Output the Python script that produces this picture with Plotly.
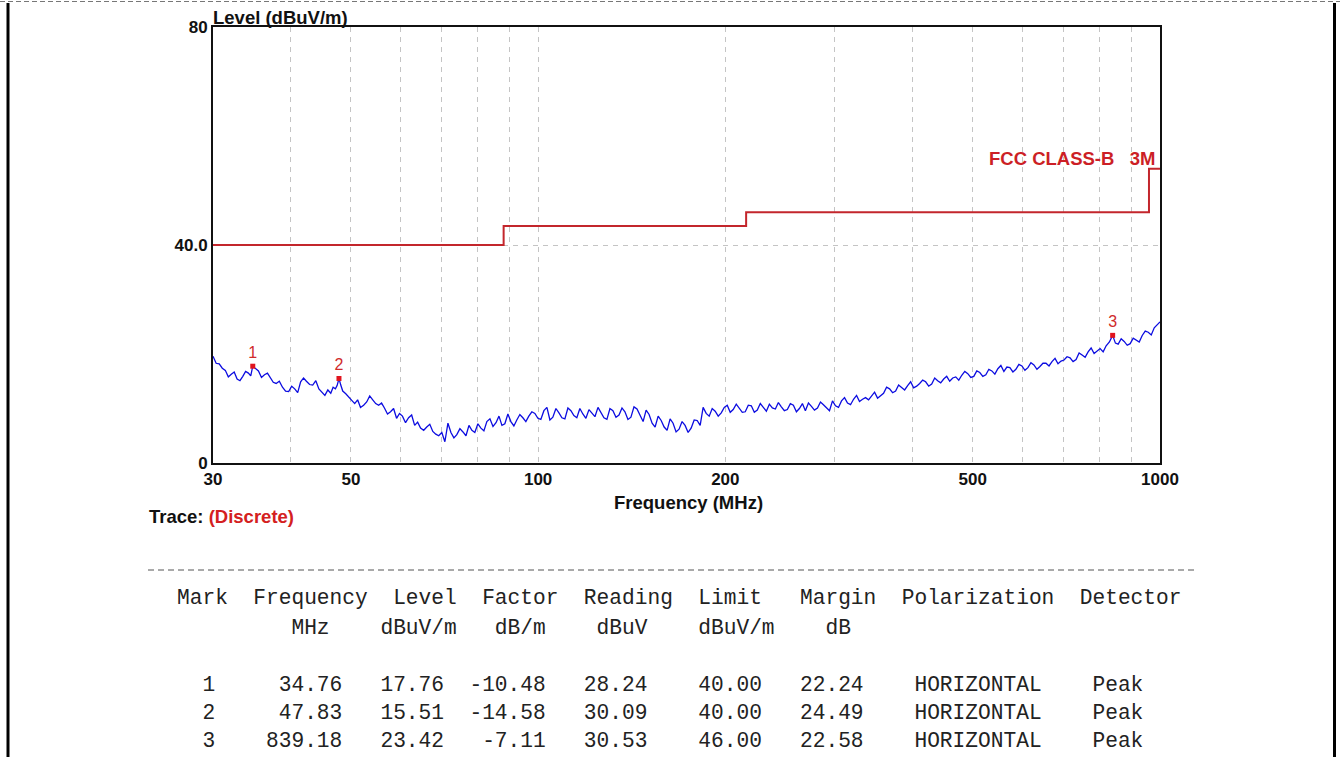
import math
import plotly.graph_objects as go

# ---------------- data ----------------
freq = [
    30, 30.35, 30.7, 31.05, 31.4, 31.75, 32.1, 32.45, 32.8, 33.15, 33.5, 33.85, 34.2, 34.5, 34.76, 35.1, 35.5, 35.9, 36.3, 36.7,
    37.1, 37.5, 37.9, 38.35, 38.8, 39.25, 39.7, 40.15, 40.6, 41.05, 41.5, 41.95, 42.4, 42.9, 43.4, 43.9, 44.4, 44.9, 45.4, 45.9,
    46.4, 46.8, 47.2, 47.5, 47.83, 48.15, 48.5, 49.05, 49.6, 50.15, 50.7, 51.25, 51.8, 52.4, 53.0, 53.6, 54.2, 54.8, 55.4, 56.0,
    56.6, 57.25, 57.9, 58.55, 59.2, 59.85, 60.5, 61.2, 61.9, 62.6, 63.3, 64.0, 64.7, 65.45, 66.2, 66.95, 67.7, 68.45, 69.2, 70.0,
    70.8, 71.6, 72.4, 73.2, 74.0, 74.85, 75.7, 76.55, 77.4, 78.25, 79.1, 80.0, 80.9, 81.8, 82.7, 83.65, 84.6, 85.55, 86.5, 87.45,
    88.4, 89.4, 90.4, 91.4, 92.4, 93.45, 94.5, 95.55, 96.6, 97.7, 98.8, 99.9, 101, 102.15, 103.3, 104.45, 105.6, 106.8, 108, 109.2,
    110.4, 111.65, 112.9, 114.15, 115.4, 116.7, 118, 119.35, 120.7, 122.05, 123.4, 124.8, 126.2, 127.6, 129, 130.45, 131.9, 133.4, 134.9, 136.4,
    137.9, 139.45, 141, 142.6, 144.2, 145.85, 147.5, 149.15, 150.8, 152.5, 154.2, 155.95, 157.7, 159.45, 161.2, 163.0, 164.8, 166.65, 168.5, 170.4,
    172.3, 174.25, 176.2, 178.2, 180.2, 182.2, 184.2, 186.3, 188.4, 190.5, 192.6, 194.8, 197, 199.2, 201.4, 203.65, 205.9, 208.25, 210.6, 212.95,
    215.3, 217.75, 220.2, 222.65, 225.1, 227.65, 230.2, 232.8, 235.4, 238.05, 240.7, 243.4, 246.1, 248.85, 251.6, 254.45, 257.3, 260.2, 263.1, 266.05,
    269, 272.05, 275.1, 278.2, 281.3, 284.45, 287.6, 290.85, 294.1, 297.4, 300.7, 304.1, 307.5, 310.95, 314.4, 317.95, 321.5, 325.1, 328.7, 332.4,
    336.1, 339.9, 343.7, 347.55, 351.4, 355.35, 359.3, 363.35, 367.4, 371.55, 375.7, 379.9, 384.1, 388.45, 392.8, 397.2, 401.6, 406.15, 410.7, 415.3,
    419.9, 424.65, 429.4, 434.2, 439, 443.95, 448.9, 453.95, 459, 464.2, 469.4, 474.7, 480, 485.4, 490.8, 496.3, 501.8, 507.45, 513.1, 518.9,
    524.7, 530.6, 536.5, 542.55, 548.6, 554.8, 561, 567.3, 573.6, 580.05, 586.5, 593.1, 599.7, 606.45, 613.2, 620.1, 627, 634.05, 641.1, 648.35,
    655.6, 663.0, 670.4, 677.95, 685.5, 693.2, 700.9, 708.8, 716.7, 724.8, 732.9, 741.15, 749.4, 757.85, 766.3, 774.9, 783.5, 792.35, 801.2, 810.2,
    819.2, 829.2, 839.18, 847.8, 856.5, 866.15, 875.8, 885.65, 895.5, 905.6, 915.7, 926.0, 936.3, 946.85, 957.4, 968.15, 978.9, 989.45, 1000,
]
level = [
    19.6, 18.3, 18.2, 17.4, 17.0, 15.8, 16.3, 16.7, 15.4, 15.1, 15.9, 16.8, 16.5, 16.0, 17.76, 17.3, 16.9, 15.7, 16.2, 16.5,
    15.6, 14.8, 14.6, 15.0, 13.9, 13.2, 13.1, 14.1, 13.6, 12.9, 14.9, 15.6, 15.0, 14.4, 14.3, 15.1, 13.6, 12.9, 12.4, 13.4,
    12.8, 13.9, 13.6, 14.2, 15.51, 14.3, 13.2, 12.7, 12.0, 11.5, 10.9, 11.6, 10.2, 10.6, 11.2, 12.3, 11.6, 10.9, 10.6, 11.0,
    10.1, 9.0, 9.4, 10.0, 8.2, 9.1, 8.6, 7.4, 8.3, 8.8, 6.9, 7.5, 6.4, 6.0, 6.6, 7.1, 5.8, 5.3, 5.0, 5.6,
    3.9, 7.3, 5.6, 4.6, 5.2, 6.3, 5.7, 5.0, 6.9, 6.0, 5.6, 7.2, 6.4, 5.9, 7.6, 8.1, 6.7, 7.4, 8.6, 6.9,
    7.2, 9.0, 7.6, 6.8, 7.9, 8.9, 8.3, 7.6, 8.6, 9.4, 9.1, 8.2, 8.0, 9.6, 10.2, 7.9, 8.4, 10.0, 9.2, 8.3,
    8.1, 10.1, 9.6, 8.7, 8.3, 10.0, 9.0, 8.2, 9.8, 9.1, 8.5, 10.2, 9.3, 8.3, 8.0, 10.0, 9.6, 8.4, 8.8, 10.1,
    9.4, 8.0, 8.4, 10.3, 9.9, 8.6, 7.6, 9.7, 8.9, 7.3, 6.6, 8.6, 7.8, 6.6, 6.0, 8.1, 7.3, 5.7, 6.2, 7.6,
    6.9, 5.6, 6.4, 7.9, 7.8, 6.9, 10.2, 9.1, 8.6, 10.0, 9.5, 8.6, 9.2, 10.2, 10.6, 9.3, 9.8, 10.8, 10.1, 9.3,
    9.4, 10.6, 10.5, 9.3, 9.7, 10.9, 10.2, 9.5, 10.8, 10.1, 9.9, 11.1, 10.3, 9.6, 9.8, 10.9, 10.6, 9.4, 10.0, 10.9,
    9.6, 11.0, 10.4, 9.7, 10.1, 11.2, 10.7, 10.1, 9.6, 11.4, 10.5, 10.2, 11.4, 12.0, 11.0, 10.7, 11.7, 12.4, 11.3, 11.7,
    12.0, 11.6, 12.4, 13.0, 11.9, 12.4, 12.8, 13.9, 13.6, 12.9, 13.2, 14.3, 13.9, 13.4, 14.2, 14.9, 13.8, 14.1, 14.6, 15.2,
    14.9, 14.1, 14.5, 15.6, 15.1, 14.7, 15.4, 15.9, 15.0, 15.6, 15.8, 15.2, 16.1, 16.8, 16.4, 15.7, 15.9, 16.9, 16.6, 15.9,
    16.2, 17.2, 16.9, 16.3, 17.3, 17.9, 16.8, 17.6, 17.5, 16.7, 17.2, 18.1, 17.8, 17.0, 17.5, 18.4, 18.0, 17.2, 17.7, 18.3,
    18.3, 17.8, 18.6, 19.2, 18.2, 18.7, 18.9, 19.5, 19.3, 18.6, 19.0, 20.2, 19.8, 19.4, 20.4, 21.1, 20.1, 20.6, 21.0, 20.4,
    21.5, 22.2, 23.42, 22.0, 21.8, 22.8, 22.3, 21.6, 21.9, 22.9, 22.6, 22.2, 23.4, 24.2, 24.0, 23.5, 24.8, 25.3, 25.9,
]

limit_freq = [30, 88, 216, 960, 1000]
limit_level = [40, 43.5, 46, 54, 54]
limit_name = "FCC CLASS-B   3M"

x_tick_vals = [30, 50, 100, 200, 500, 1000]
x_tick_text = ["30", "50", "100", "200", "500", "1000"]
x_minor_vals = [40, 60, 70, 80, 90, 300, 400, 600, 700, 800, 900]
y_tick_vals = [0, 40, 80]
y_tick_text = ["0", "40.0", "80"]

marks = [1, 2, 3]
mark_freq = [34.76, 47.83, 839.18]
mark_level = [17.76, 15.51, 23.42]
mark_factor = [-10.48, -14.58, -7.11]
mark_reading = [28.24, 30.09, 30.53]
mark_limit = [40.00, 40.00, 46.00]
mark_margin = [22.24, 24.49, 22.58]
mark_pol = ["HORIZONTAL", "HORIZONTAL", "HORIZONTAL"]
mark_det = ["Peak", "Peak", "Peak"]

header1 = "Mark  Frequency  Level  Factor  Reading  Limit   Margin  Polarization  Detector"
header2 = "         MHz    dBuV/m   dB/m    dBuV    dBuV/m    dB"

# ---------------- layout helpers ----------------
W, H = 1340, 757
L, R, T, B = 213, 1160, 27, 463


def px(x):
    return (x - L) / (R - L)


def py(y):
    return (B - y) / (B - T)


NB = "\u00a0"


def nb(s):
    return s.replace(" ", NB)


fig = go.Figure()

fig.add_trace(go.Scatter(
    x=limit_freq, y=limit_level, mode="lines",
    line=dict(color="#c3262c", width=2, shape="hv"),
    hoverinfo="skip", showlegend=False,
))
fig.add_trace(go.Scatter(
    x=freq, y=level, mode="lines",
    line=dict(color="#0c0ce0", width=1.3),
    showlegend=False,
))
fig.add_trace(go.Scatter(
    x=mark_freq, y=mark_level, mode="markers+text",
    text=[str(m) for m in marks], textposition="top center",
    marker=dict(symbol="square", size=5, color="#e0141e"),
    textfont=dict(color="#d02a2a", size=16, family="Liberation Sans"),
    showlegend=False,
))

grid_color = "#c4c4c4"
grid_dash = "5px,5px"
tick_font = dict(family="Liberation Sans", size=17, color="#111", weight="bold")

fig.update_xaxes(
    type="log", range=[math.log10(30), math.log10(1000)],
    tickmode="array", tickvals=x_tick_vals, ticktext=x_tick_text,
    showgrid=True, gridcolor=grid_color, griddash=grid_dash, gridwidth=1,
    minor=dict(tickmode="array", tickvals=x_minor_vals, showgrid=True,
               gridcolor=grid_color, griddash=grid_dash, gridwidth=1, ticks=""),
    showline=True, linecolor="#111", linewidth=2, mirror=True,
    ticks="", tickfont=tick_font, zeroline=False,
)
fig.update_yaxes(
    range=[0, 80], tickmode="array", tickvals=y_tick_vals, ticktext=y_tick_text,
    showgrid=True, gridcolor=grid_color, griddash=grid_dash, gridwidth=1,
    showline=True, linecolor="#111", linewidth=2, mirror=True,
    ticks="", tickfont=tick_font, zeroline=False,
)

title_font = dict(family="Liberation Sans", size=18.5, color="#111", weight="bold")
mono = dict(family="Liberation Mono", size=21.2, color="#222")

annotations = [
    dict(x=px(211), y=py(17), xref="paper", yref="paper", text="Level (dBuV/m)",
         showarrow=False, xanchor="left", yanchor="middle", font=title_font),
    dict(x=px(688), y=py(502), xref="paper", yref="paper", text="Frequency (MHz)",
         showarrow=False, xanchor="center", yanchor="middle", font=title_font),
    dict(x=px(147), y=py(516), xref="paper", yref="paper",
         text="Trace: <span style='color:#d42020'>(Discrete)</span>",
         showarrow=False, xanchor="left", yanchor="middle", font=title_font),
    dict(x=px(1158), y=py(158), xref="paper", yref="paper", text=nb(limit_name),
         showarrow=False, xanchor="right", yanchor="middle",
         font=dict(family="Liberation Sans", size=18.5, color="#cc1f26", weight="bold")),
]

table_rows = [header1, header2]
for i in range(len(marks)):
    row = (f"{marks[i]:>3}{mark_freq[i]:>10.2f}{mark_level[i]:>8.2f}{mark_factor[i]:>8.2f}"
           f"{mark_reading[i]:>8.2f}{mark_limit[i]:>9.2f}{mark_margin[i]:>8.2f}"
           f"    {mark_pol[i]}    {mark_det[i]}")
    table_rows.append(row)
row_y = [598, 628, 685, 713, 741]
for s, yy in zip(table_rows, row_y):
    annotations.append(dict(x=px(175), y=py(yy), xref="paper", yref="paper", text=nb(s),
                            showarrow=False, xanchor="left", yanchor="middle", font=mono))

shapes = [
    dict(type="line", xref="paper", yref="paper", x0=px(148), x1=px(1198), y0=py(570), y1=py(570),
         line=dict(color="#555", width=1, dash="6px,4px")),
    dict(type="line", xref="paper", yref="paper", x0=px(0), x1=px(1340), y0=py(1.5), y1=py(1.5),
         line=dict(color="#777", width=1, dash="5px,3px")),
    dict(type="line", xref="paper", yref="paper", x0=px(8), x1=px(8), y0=py(3), y1=py(757),
         line=dict(color="#000", width=3)),
    dict(type="line", xref="paper", yref="paper", x0=px(1334.5), x1=px(1334.5), y0=py(3), y1=py(757),
         line=dict(color="#000", width=3)),
]

fig.update_layout(
    width=W, height=H,
    margin=dict(l=L, r=W - R, t=T, b=H - B, pad=0),
    paper_bgcolor="white", plot_bgcolor="white",
    showlegend=False,
    annotations=annotations, shapes=shapes,
    font=dict(family="Liberation Sans"),
)

fig.write_html(
    "out.html",
    config={"displayModeBar": False},
    post_script="document.body.style.margin='0';document.body.style.padding='0';document.body.style.overflow='hidden';",
)
